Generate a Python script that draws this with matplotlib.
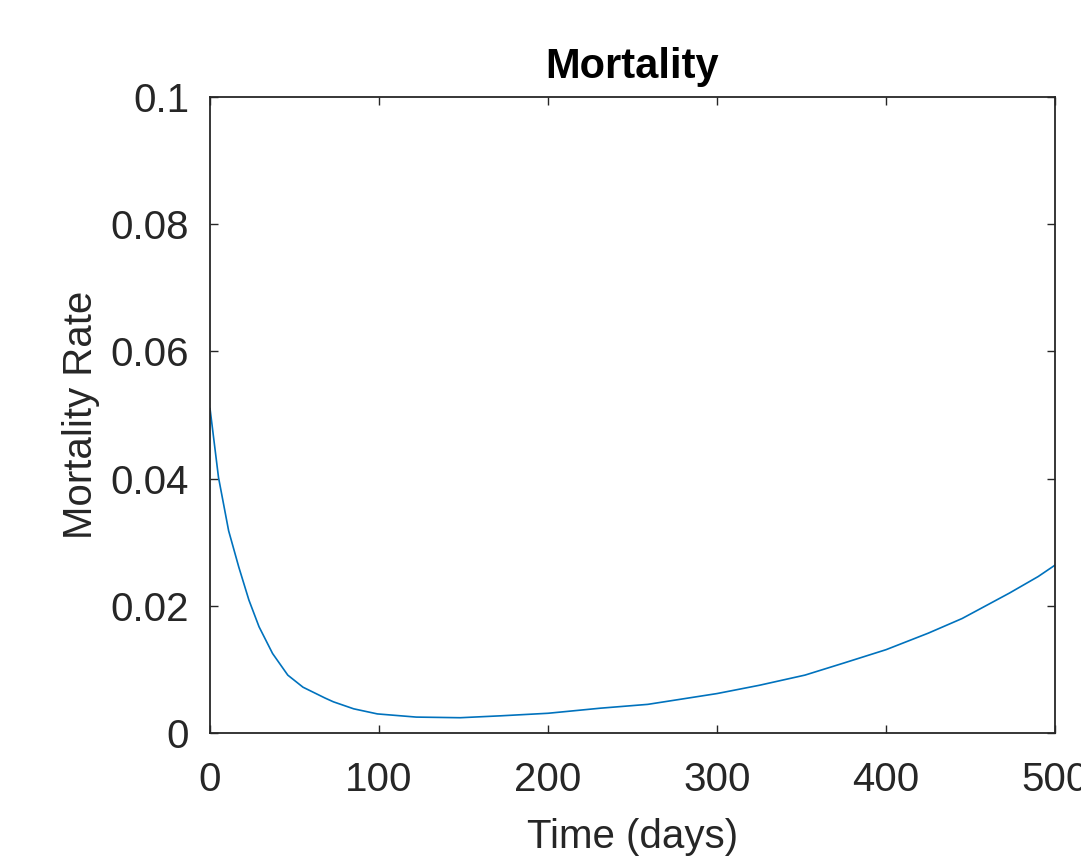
import matplotlib
matplotlib.use("Agg")
import matplotlib.pyplot as plt

days = [0, 5, 11, 17, 23, 29, 37, 46, 55, 68, 73, 85, 99, 122, 148, 172, 200, 231, 259,
        300, 325, 352, 375, 400, 425, 445, 473, 490, 500]
mortality = [0.0510, 0.0402, 0.0318, 0.0261, 0.0209, 0.0167, 0.0125, 0.0091, 0.0072, 0.0055,
             0.0049, 0.0038, 0.0030, 0.0025, 0.0024, 0.0027, 0.0031, 0.0039, 0.0045,
             0.0062, 0.0075, 0.0091, 0.0110, 0.0131, 0.0157, 0.0180, 0.0220, 0.0246, 0.0264]
xticks = [0, 100, 200, 300, 400, 500]
yticks = [0, 0.02, 0.04, 0.06, 0.08, 0.1]
yticklabels = ["0", "0.02", "0.04", "0.06", "0.08", "0.1"]

plt.rcParams['font.family'] = ['Liberation Sans', 'DejaVu Sans']
TXT = '#262626'

fig = plt.figure(figsize=(10.81, 8.59), dpi=100)
ax = fig.add_axes([0.1943, 0.1467, 0.976 - 0.1943, 0.887 - 0.1467])
ax.plot(days, mortality, color='#0072BD', lw=1.2, solid_joinstyle='round', antialiased=True)
ax.set_xlim(0, 500)
ax.set_ylim(0, 0.1)
ax.set_xticks(xticks)
ax.set_xticklabels([str(t) for t in xticks])
ax.set_yticks(yticks)
ax.set_yticklabels(yticklabels)
ax.tick_params(direction='in', length=6, width=1, colors=TXT, labelsize=29,
               top=True, right=True)
ax.tick_params(axis='x', pad=20)
ax.tick_params(axis='y', pad=15)
for s in ax.spines.values():
    s.set_color(TXT)
    s.set_linewidth(1.3)
ax.set_title('Mortality', fontsize=30, fontweight='bold', color='black', pad=14)
ax.set_xlabel('Time (days)', fontsize=29, color=TXT, labelpad=14)
ax.set_ylabel('Mortality Rate', fontsize=29, color=TXT, labelpad=8)
fig.savefig('out.png', dpi=100)
